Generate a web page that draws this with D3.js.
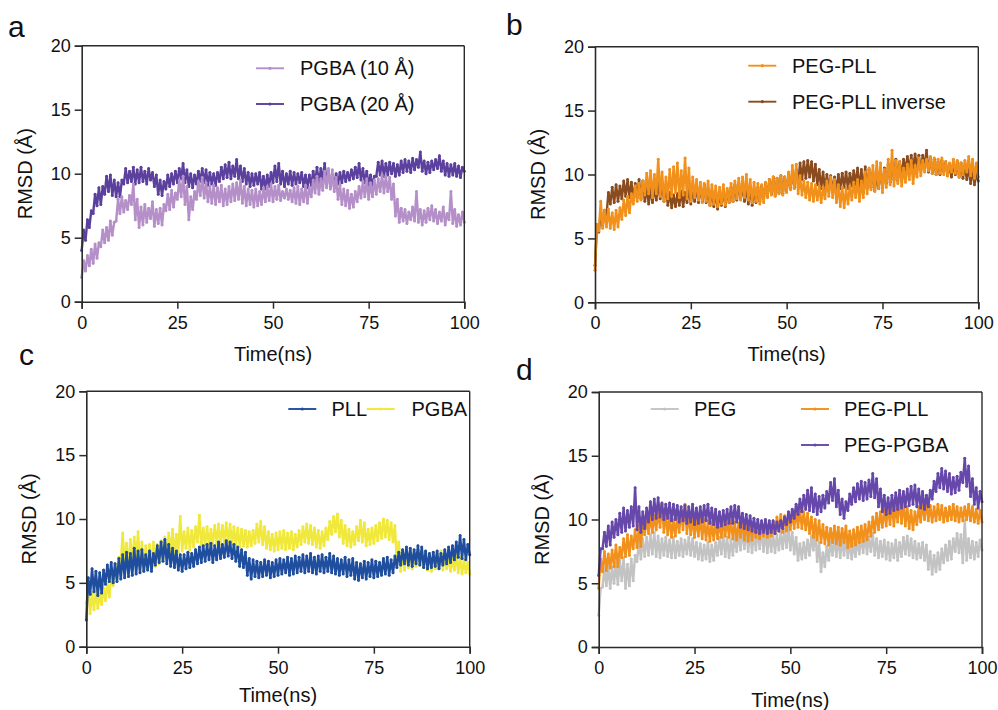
<!DOCTYPE html>
<html><head><meta charset="utf-8">
<script src="https://cdn.jsdelivr.net/npm/d3@7"></script>
<style>
body{margin:0;background:#fff}
svg{display:block;font-family:Arial,"Liberation Sans",Helvetica,sans-serif}
</style>
</head><body>
<svg id="chart" width="998" height="710"></svg>
<script>
// ---------- data (RMSD in Å, sampled every 0.5 ns, 0..100 ns) ----------
const timeStepNs = 0.5;
const xTickValues = [0, 25, 50, 75, 100];
const yTickValues = [0, 5, 10, 15, 20];
const xTitle = "Time(ns)";
const yTitle = "RMSD (Å)";

// Panel a
const pgba10A = [
1.9,3.2,2.4,3.6,2.8,4.1,3.0,4.5,3.4,4.6,
4.3,5.6,4.6,5.8,4.8,6.3,5.2,6.2,6.3,8.0,
6.9,8.2,7.0,7.9,7.2,8.3,7.6,9.2,6.4,8.0,
5.8,7.4,6.0,7.6,6.2,7.3,6.5,7.8,5.9,7.2,
6.1,7.3,6.0,7.6,7.1,8.4,7.2,8.7,7.4,8.5,
8.0,9.5,8.2,9.8,7.6,9.0,6.4,8.2,7.2,8.6,
8.0,9.4,8.3,9.7,8.1,9.3,7.8,9.0,7.7,9.1,
7.6,8.9,7.8,9.1,7.5,8.8,7.6,9.0,7.8,9.2,
7.9,9.3,8.0,9.5,7.7,9.0,7.5,8.8,7.6,8.7,
7.4,8.8,7.5,8.6,7.6,8.9,7.8,9.0,7.9,9.2,
7.8,9.0,8.0,9.1,7.9,8.6,8.1,8.8,8.0,8.7,
7.8,8.9,7.7,9.0,7.6,8.8,7.8,9.1,7.7,8.9,
8.2,9.5,8.5,9.8,8.4,9.6,8.7,10.2,8.9,10.4,
8.8,10.3,8.6,9.7,8.0,9.1,7.6,8.8,7.5,8.7,
7.3,8.4,7.4,8.6,7.8,9.0,8.1,9.4,8.2,9.6,
8.0,9.3,8.2,9.5,8.4,9.6,8.6,9.9,8.5,9.8,
8.6,9.7,8.0,9.2,6.7,8.0,6.2,7.3,6.3,7.2,
6.1,7.0,6.4,7.4,6.3,8.6,6.2,7.2,6.0,7.1,
6.2,7.3,6.4,7.5,6.3,7.2,6.1,7.0,6.3,7.4,
6.0,6.9,6.4,8.6,6.1,7.2,5.9,6.8,6.0,7.0,
6.2];
const pgba20A = [
4.0,5.6,4.8,6.4,5.8,7.1,6.9,8.4,7.5,8.9,
7.6,9.0,8.4,9.8,8.6,9.9,8.3,9.5,8.2,9.3,
8.2,9.5,9.2,10.4,9.3,10.2,9.4,10.5,9.2,10.3,
9.3,10.5,9.4,10.2,9.2,10.4,9.5,10.1,9.0,9.9,
8.4,9.5,8.3,9.4,8.8,9.9,9.0,10.0,9.2,10.2,
9.3,10.4,9.6,10.8,9.3,10.3,9.0,10.0,8.9,9.9,
9.2,10.2,9.4,10.4,9.3,10.3,9.1,10.1,9.2,10.0,
9.1,10.1,9.4,10.5,9.6,10.7,9.7,10.9,9.6,10.6,
9.8,11.1,9.6,10.6,9.4,10.4,9.2,10.1,9.0,10.0,
9.1,10.0,9.2,10.1,8.8,9.8,8.8,9.9,9.0,10.1,
9.3,10.6,9.4,10.8,9.2,10.2,9.0,10.0,9.2,10.2,
9.1,10.1,9.2,10.0,9.3,10.1,9.0,9.9,8.9,9.9,
9.1,10.2,9.3,10.5,9.2,10.4,9.5,10.8,9.3,10.2,
9.0,9.9,9.1,10.0,9.2,10.1,9.3,10.2,9.4,10.1,
9.5,10.3,9.6,10.5,9.7,10.8,9.5,10.4,9.3,10.2,
9.1,9.9,9.0,9.8,9.8,10.9,9.9,11.0,9.8,10.8,
9.9,10.9,10.0,10.8,9.8,10.7,9.9,11.0,10.1,11.1,
10.2,11.0,10.1,11.2,10.3,11.1,10.5,11.7,10.2,11.0,
10.0,10.9,10.1,11.0,10.3,11.1,10.4,11.4,10.2,11.0,
9.9,10.8,9.8,10.7,9.9,10.8,9.8,10.6,9.7,10.5,
10.2];

// Panel b
const pegPllB = [
2.5,6.1,5.6,7.9,5.8,7.2,5.9,7.3,5.8,7.0,
5.7,7.2,5.9,7.4,6.5,8.0,6.8,8.3,7.0,8.5,
7.7,9.1,7.9,9.3,8.0,9.5,8.4,10.1,8.5,10.3,
8.2,10.0,8.5,11.2,8.3,10.2,7.9,9.8,8.1,10.4,
8.3,10.6,8.6,10.9,8.2,10.3,8.4,11.3,8.1,10.5,
7.9,9.8,8.2,9.6,8.0,9.4,7.8,9.3,7.9,9.5,
7.6,9.2,7.7,9.1,7.5,9.0,7.7,9.2,7.6,8.9,
7.8,9.3,7.9,9.5,8.1,9.7,8.0,9.8,8.2,10.0,
8.0,9.6,7.8,9.4,7.9,9.3,7.7,9.2,7.8,9.4,
8.2,9.6,8.4,9.8,8.3,9.7,8.5,9.9,8.4,9.8,
8.6,10.2,8.8,10.7,8.9,10.8,8.5,9.9,8.4,9.5,
8.2,9.4,8.0,9.3,7.9,9.2,8.0,9.1,7.8,9.0,
8.1,9.5,8.3,9.8,8.2,9.6,7.8,9.2,7.5,9.0,
7.4,8.9,7.7,9.1,8.0,9.4,8.2,9.6,7.9,9.5,
8.2,10.2,8.5,10.5,8.8,10.7,8.7,11.0,8.9,10.9,
8.6,10.4,9.0,11.2,9.2,11.9,9.1,11.1,9.3,11.0,
9.1,10.5,9.4,10.8,9.6,11.1,9.3,10.7,9.8,11.3,
9.9,11.1,10.2,11.2,10.3,11.4,10.1,11.3,10.0,11.2,
10.1,11.3,10.0,11.0,9.9,10.9,10.2,11.2,10.1,11.1,
9.8,10.9,10.0,11.1,10.2,11.4,9.9,11.2,9.7,10.9,
9.8];
const pegPllInvB = [
2.9,5.9,5.5,7.0,6.0,7.2,6.8,8.6,7.7,9.0,
7.8,9.2,7.9,9.1,8.1,9.5,8.3,9.6,8.2,9.4,
8.0,9.3,8.2,9.6,8.1,9.5,7.9,9.0,7.7,8.9,
7.8,9.0,8.0,9.3,8.1,9.4,7.9,9.1,7.6,8.6,
7.4,8.4,7.5,8.5,7.6,8.7,7.5,8.6,7.8,8.9,
7.7,8.8,7.9,9.1,7.8,9.0,7.9,9.2,7.8,8.9,
7.6,8.7,7.5,8.6,7.3,8.5,7.6,8.8,7.5,8.7,
7.8,9.0,7.9,9.2,8.0,9.3,8.1,9.1,7.9,9.0,
7.7,8.9,7.6,8.8,7.8,9.0,7.9,9.1,8.1,9.3,
8.3,9.6,8.5,9.8,8.4,9.7,8.6,9.9,8.5,9.8,
8.7,10.0,8.9,10.2,9.0,10.4,9.3,10.9,9.6,11.0,
9.7,11.1,9.8,11.0,9.5,10.8,9.2,10.4,8.9,10.2,
8.8,10.0,8.9,9.9,8.7,9.8,8.8,10.0,8.9,10.1,
9.0,10.2,8.9,10.1,9.1,10.3,9.2,10.5,8.8,10.4,
8.6,10.6,8.9,10.4,9.0,10.2,8.7,10.0,8.9,10.3,
9.0,10.5,9.3,10.8,9.4,11.0,9.6,11.2,9.5,11.0,
9.8,11.2,10.3,11.4,10.4,11.5,10.5,11.6,10.6,11.5,
10.4,11.5,10.6,11.9,10.2,11.3,10.1,11.2,10.0,11.0,
10.0,11.1,10.2,11.0,9.9,10.8,9.8,10.9,10.0,11.0,
9.8,10.9,9.7,10.7,9.6,10.6,9.3,10.4,9.2,10.1,
9.5];

// Panel c
const pllC = [
2.1,5.4,4.1,6.1,4.3,5.9,4.0,5.8,4.2,6.0,
4.9,6.4,5.1,6.6,5.0,6.5,5.1,6.9,5.3,7.2,
5.4,7.4,5.5,7.3,5.6,7.7,5.7,7.5,5.8,7.6,
5.9,7.2,6.0,7.5,5.9,7.3,6.4,7.9,6.6,8.2,
6.7,8.4,6.5,8.0,6.3,7.7,6.2,7.5,6.0,7.2,
5.9,7.2,6.1,7.4,6.2,7.3,6.3,7.6,6.5,7.8,
6.6,7.9,6.7,8.0,6.8,8.1,6.6,7.9,6.8,8.2,
6.9,8.0,7.0,8.3,7.1,8.2,6.9,8.0,6.7,7.8,
6.3,7.6,6.2,7.4,5.6,6.9,5.3,6.8,5.5,6.7,
5.4,6.6,5.5,6.8,5.6,6.7,5.4,6.6,5.5,6.8,
5.6,6.9,5.7,6.8,5.8,7.0,5.6,6.9,5.7,7.1,
5.8,7.0,5.9,7.2,5.8,7.1,5.9,7.3,5.8,7.0,
5.7,7.1,5.9,7.2,5.8,7.0,5.9,7.3,5.8,7.1,
5.7,6.9,5.6,6.8,5.7,7.0,5.5,6.8,5.6,6.9,
5.3,6.6,5.2,6.5,5.4,6.7,5.3,6.6,5.5,6.8,
5.4,6.7,5.5,6.6,5.6,6.9,5.7,7.0,5.6,6.8,
5.8,7.1,6.2,7.4,6.4,7.6,6.5,7.8,6.4,7.7,
6.3,7.6,6.5,7.9,6.4,7.8,6.2,7.5,6.1,7.3,
6.2,7.4,6.3,7.5,6.1,7.3,6.4,7.6,6.5,7.8,
6.6,7.9,6.8,8.2,7.0,8.7,6.9,8.4,6.8,8.0,
7.2];
const pgbaC = [
3.4,4.6,2.6,4.2,2.9,4.4,3.0,4.1,3.3,4.6,
3.6,5.0,3.9,5.4,4.8,6.5,5.4,7.0,6.6,8.9,
6.4,8.1,6.2,8.4,6.5,8.6,6.8,9.0,6.3,8.2,
6.0,7.9,6.2,8.0,6.4,8.2,6.3,8.0,6.5,8.3,
6.9,8.6,7.0,8.9,7.2,9.2,7.1,8.8,7.4,10.2,
7.5,9.0,7.7,9.3,7.6,9.1,7.8,9.4,8.2,10.3,
7.8,9.3,8.0,9.4,7.9,9.2,8.0,9.5,8.1,9.6,
8.0,9.5,8.2,9.7,8.1,9.6,8.0,9.4,7.9,9.3,
7.8,9.2,7.9,9.1,7.8,9.0,7.9,9.1,8.1,9.6,
8.2,9.8,8.0,9.4,7.7,9.0,7.6,8.8,7.5,8.9,
7.6,9.0,7.7,9.1,7.6,8.9,7.7,9.0,7.6,8.8,
7.8,9.1,8.0,9.4,8.2,9.6,8.1,9.5,8.0,9.3,
7.8,9.1,7.7,9.0,7.9,9.3,8.4,9.8,8.8,10.2,
9.0,10.4,8.6,9.9,8.1,9.5,7.9,9.2,7.8,9.0,
8.0,9.4,8.3,9.9,8.2,9.7,7.9,9.2,8.0,9.3,
8.1,9.5,8.3,9.7,8.5,10.0,8.6,9.9,8.4,9.7,
8.2,9.5,6.5,8.2,5.9,7.3,6.0,7.5,6.2,7.6,
6.1,7.4,6.3,7.6,6.4,7.5,6.2,7.3,6.0,7.2,
5.9,7.1,6.1,7.3,6.2,7.5,6.0,7.2,6.1,7.0,
5.9,6.9,6.0,7.2,5.8,7.0,5.7,6.8,5.8,6.6,
5.7];

// Panel d
const pegD = [
2.5,4.6,4.7,6.2,4.8,6.4,4.6,6.3,5.0,6.6,
4.9,6.8,5.2,7.0,4.6,6.5,4.8,6.9,5.2,7.2,
6.7,8.3,6.9,8.5,7.1,8.6,7.2,8.8,7.3,9.0,
7.1,8.7,7.0,8.5,7.2,8.6,7.1,8.4,7.0,8.6,
7.0,8.3,7.2,8.5,7.1,8.4,7.3,8.6,7.2,8.5,
7.1,8.2,6.9,8.1,6.8,8.0,6.9,8.2,6.7,8.0,
6.8,8.2,7.2,8.6,7.3,8.8,7.1,8.6,7.0,8.4,
7.2,8.7,7.5,9.0,7.6,9.2,7.7,9.3,7.5,9.1,
7.4,9.0,7.6,9.2,7.7,9.3,7.5,9.1,7.4,8.9,
7.5,8.9,7.4,8.8,7.6,9.0,7.7,9.2,7.8,9.4,
7.6,9.0,7.3,8.6,6.8,8.1,6.9,8.2,7.0,8.4,
7.2,8.7,7.6,9.2,6.7,8.2,5.9,7.4,6.3,7.9,
6.8,8.3,7.2,8.5,7.1,8.6,7.0,8.4,7.2,8.6,
7.0,8.3,6.9,8.1,7.1,8.4,7.3,8.7,7.4,8.8,
7.3,8.6,7.5,8.9,7.2,8.5,7.0,8.3,7.1,8.4,
6.9,8.2,6.8,8.1,7.0,8.4,6.8,8.2,7.1,8.6,
7.3,8.7,7.2,8.5,7.0,8.3,6.9,8.1,7.0,8.2,
6.8,8.0,6.1,7.5,5.7,7.2,5.9,7.4,6.1,7.7,
6.6,8.0,6.8,8.3,6.9,8.5,7.5,8.9,7.4,8.8,
6.6,9.9,6.8,8.5,7.0,8.3,6.9,8.2,7.1,8.4,
7.6];
const pegPllD = [
4.6,6.9,5.9,7.5,6.0,7.3,6.2,7.6,6.3,8.0,
6.3,7.8,7.0,8.5,7.1,8.8,7.2,8.7,7.7,9.2,
7.8,9.5,7.9,9.8,8.8,10.2,8.9,10.4,9.0,10.3,
9.2,10.6,9.4,11.2,9.0,10.5,8.8,10.2,8.6,10.0,
8.7,10.3,9.0,10.7,9.2,11.2,8.9,10.5,8.8,10.2,
8.6,10.1,8.7,10.2,8.5,10.0,8.4,9.9,8.3,9.8,
8.4,9.8,8.5,9.9,8.6,10.0,8.7,10.1,8.6,9.9,
8.5,9.8,8.4,9.7,8.6,9.9,8.4,9.8,8.3,9.7,
8.4,9.8,8.6,9.7,8.5,9.6,8.7,9.8,8.6,9.6,
8.7,9.8,8.9,10.2,9.1,10.4,9.0,10.3,9.1,10.5,
9.2,10.6,9.3,10.7,9.4,10.8,9.3,10.6,9.2,10.5,
8.9,10.2,8.6,10.0,8.4,9.9,8.2,9.6,8.1,9.4,
8.0,9.3,8.2,9.5,8.1,9.4,8.0,9.3,8.2,9.5,
7.8,9.1,7.9,9.2,8.0,9.4,8.2,9.5,8.3,9.6,
8.4,9.8,8.7,10.2,9.0,10.5,9.2,10.6,9.4,10.8,
9.5,11.0,9.6,11.2,9.5,11.1,9.8,11.7,9.7,11.4,
9.5,11.0,9.3,10.7,9.2,10.6,9.6,11.0,9.8,11.3,
10.0,11.4,9.9,11.1,9.8,11.0,9.9,11.2,10.0,11.1,
9.8,10.9,9.9,11.0,10.0,11.2,9.9,11.0,9.8,10.9,
9.9,11.0,10.0,11.2,9.9,11.0,9.8,10.8,9.7,10.7,
9.8];
const pegPgbaD = [
5.6,7.7,7.7,9.0,7.9,9.5,8.0,9.8,8.6,10.0,
8.8,10.5,9.0,10.9,9.1,10.7,9.4,11.0,9.5,12.5,
9.2,11.0,9.0,10.6,9.3,10.9,9.8,11.4,10.0,11.6,
10.1,11.7,10.2,11.3,10.0,11.2,10.1,11.3,9.9,11.2,
10.0,11.1,9.8,11.0,9.9,11.1,9.7,11.0,9.8,11.2,
9.6,10.9,9.7,11.0,9.8,11.1,9.9,11.2,9.7,10.9,
9.6,10.8,9.4,10.6,9.5,10.7,9.6,10.8,9.7,11.0,
9.7,11.1,9.8,11.0,9.4,10.5,9.3,10.4,9.2,10.3,
9.1,10.1,9.0,10.0,8.9,9.9,9.0,10.0,8.9,9.9,
9.0,9.9,8.9,9.8,9.1,9.9,9.3,10.2,9.6,10.6,
9.8,10.8,10.1,11.2,10.4,11.6,10.6,11.9,10.8,12.3,
10.7,12.5,10.6,12.0,10.4,11.8,10.6,11.9,10.9,12.2,
11.3,12.9,11.5,13.2,11.0,12.3,10.4,11.6,10.1,11.4,
10.7,12.0,11.2,12.5,11.4,12.8,11.6,13.0,11.5,12.9,
11.6,13.1,11.8,13.6,11.7,13.2,11.0,12.4,10.6,11.9,
10.4,11.7,10.5,11.9,10.7,12.1,10.8,12.3,10.9,12.2,
11.0,12.4,11.1,12.6,11.2,12.7,11.0,12.4,10.9,12.2,
10.8,11.9,11.0,12.3,11.6,13.0,12.2,13.6,12.5,14.0,
12.4,13.8,12.2,13.6,12.0,13.3,12.1,13.4,12.3,13.7,
12.9,14.8,12.6,14.2,11.8,13.2,11.2,12.5,10.9,12.2,
11.4];

// ---------- layout / styling ----------
const panels = [
  { label:"a", labelX:8, labelY:37, box:{l:81.7,t:45.7,r:464.3,b:301.7}, xTitleY:361,
    series:[
      {name:"PGBA (10 Å)", values:pgba10A, color:"#b48fc8", z:1, lx:256, ly:68.3, tx:300},
      {name:"PGBA (20 Å)", values:pgba20A, color:"#5c409e", z:0, lx:256, ly:104, tx:300}
    ]},
  { label:"b", labelX:506, labelY:35, box:{l:595,t:46.7,r:978.3,b:302.3}, xTitleY:361,
    series:[
      {name:"PEG-PLL", values:pegPllB, color:"#f2901c", z:1, lx:748.3, ly:65.7, tx:792},
      {name:"PEG-PLL inverse", values:pegPllInvB, color:"#8a4c1f", z:0, lx:748.3, ly:101.7, tx:792}
    ]},
  { label:"c", labelX:19, labelY:365, box:{l:86.3,t:391.3,r:469.7,b:646.7}, xTitleY:702,
    series:[
      {name:"PLL", values:pllC, color:"#1f4e9e", z:1, lx:288.3, ly:409, tx:331.5},
      {name:"PGBA", values:pgbaC, color:"#f0e83a", z:0, lx:366.7, ly:409, tx:411.5}
    ]},
  { label:"d", labelX:516, labelY:380, box:{l:598.7,t:392,r:982,b:647}, xTitleY:707,
    series:[
      {name:"PEG", values:pegD, color:"#c3c3c3", z:0, lx:650.7, ly:409, tx:694},
      {name:"PEG-PLL", values:pegPllD, color:"#f2901c", z:1, lx:801, ly:409, tx:844},
      {name:"PEG-PGBA", values:pegPgbaD, color:"#6548aa", z:2, lx:801, ly:445, tx:844}
    ]}
];

const svg = d3.select("#chart");
svg.append("rect").attr("width",998).attr("height",710).attr("fill","#fff");
const axisColor = "#2b2b2b";

panels.forEach(p => {
  const x = d3.scaleLinear().domain([0,100]).range([p.box.l, p.box.r]);
  const y = d3.scaleLinear().domain([0,20]).range([p.box.b, p.box.t]);
  const g = svg.append("g");

  // series lines with small point markers
  const line = d3.line()
    .x((d,i) => x(i*timeStepNs))
    .y(d => y(d));
  const ordered = p.series.slice().sort((a,b) => a.z - b.z);
  ordered.forEach(s => {
    const sg = g.append("g");
    sg.append("path").datum(s.values)
      .attr("d", line)
      .attr("fill","none")
      .attr("stroke", s.color)
      .attr("stroke-width", 2.4)
      .attr("stroke-linejoin","round");
    sg.selectAll("circle").data(s.values).join("circle")
      .attr("cx",(d,i) => x(i*timeStepNs))
      .attr("cy",d => y(d))
      .attr("r",1.5)
      .attr("fill",s.color);
  });

  // frame (top & right)
  g.append("line").attr("x1",p.box.l).attr("x2",p.box.r).attr("y1",p.box.t).attr("y2",p.box.t)
    .attr("stroke",axisColor).attr("stroke-width",1.4);
  g.append("line").attr("x1",p.box.r).attr("x2",p.box.r).attr("y1",p.box.t).attr("y2",p.box.b)
    .attr("stroke",axisColor).attr("stroke-width",1.4);

  // axes
  const xAxis = d3.axisBottom(x).tickValues(xTickValues).tickSize(7).tickPadding(6).tickFormat(d3.format("d"));
  const yAxis = d3.axisLeft(y).tickValues(yTickValues).tickSize(7).tickPadding(4).tickFormat(d3.format("d"));
  const gx = g.append("g").attr("transform",`translate(0,${p.box.b})`).call(xAxis);
  const gy = g.append("g").attr("transform",`translate(${p.box.l},0)`).call(yAxis);
  [gx, gy].forEach(a => {
    a.select(".domain").attr("stroke",axisColor).attr("stroke-width",1.6);
    a.selectAll(".tick line").attr("stroke",axisColor).attr("stroke-width",1.5);
    a.selectAll(".tick text").attr("fill","#111").style("font-size","18px")
      .style("font-family","Arial, 'Liberation Sans', sans-serif");
  });
  gx.selectAll(".tick text").attr("dy","0.78em");

  // axis titles
  g.append("text").attr("x",(p.box.l+p.box.r)/2).attr("y",p.xTitleY)
    .attr("text-anchor","middle").style("font-size","20px").attr("fill","#111").text(xTitle);
  const ty = (p.box.t+p.box.b)/2, tx = p.box.l - 50;
  g.append("text").attr("transform",`translate(${tx},${ty}) rotate(-90)`)
    .attr("text-anchor","middle").style("font-size","20px").attr("fill","#111").text(yTitle);

  // panel label
  g.append("text").attr("x",p.labelX).attr("y",p.labelY)
    .style("font-size","30px").attr("fill","#111").text(p.label);

  // legend
  p.series.forEach(s => {
    g.append("line").attr("x1",s.lx).attr("x2",s.lx+28).attr("y1",s.ly).attr("y2",s.ly)
      .attr("stroke",s.color).attr("stroke-width",1.9);
    g.append("circle").attr("cx",s.lx+14).attr("cy",s.ly).attr("r",1.6).attr("fill",s.color);
    g.append("text").attr("x",s.tx).attr("y",s.ly+7)
      .style("font-size","20px").attr("fill","#111").text(s.name);
  });
});
</script>
</body></html>
